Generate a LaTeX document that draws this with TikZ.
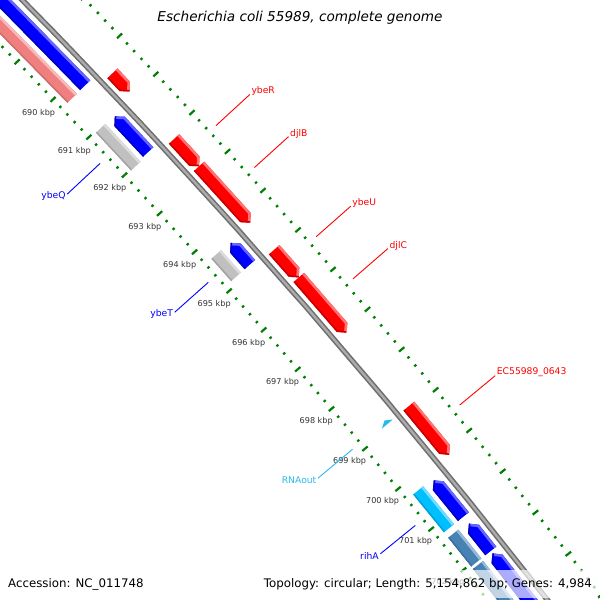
\documentclass[tikz,border=0pt]{standalone}
\usepackage{fontspec}
\setmainfont{DejaVu Sans}

\definecolor{fwdred}{RGB}{255,0,0}
\definecolor{revblue}{RGB}{0,0,255}
\definecolor{cogpink}{RGB}{240,128,128}
\definecolor{cogsilver}{RGB}{192,192,192}
\definecolor{cogcyan}{RGB}{0,191,255}
\definecolor{cogsteel}{RGB}{70,130,180}
\definecolor{rnacol}{RGB}{40,185,235}
\definecolor{tickgreen}{RGB}{0,128,0}

% map position s (px along the backbone) and offset d (px outward) to the page
\pgfkeys{/gm/.cd, s/.store in=\gmS, d/.store in=\gmD, s=0, d=0}
\tikzdeclarecoordinatesystem{gm}{%
  \pgfkeys{/gm/.cd,#1}%
  \pgfmathsetmacro\gmAng{44.103-(\gmS)*8.1895/1000}%
  \pgfmathsetmacro\gmRad{6996.3+(\gmD)}%
  \pgfpointadd{\pgfpoint{-4972pt}{-4299pt}}{\pgfpointpolar{\gmAng}{\gmRad pt}}%
}

% forward gene, track d=7..21, head at #2
\newcommand{\fwdgene}[3]{%
  \begin{scope}
    \clip (gm cs:s=#1,d=7) -- (gm cs:s=#2-7,d=7) -- (gm cs:s=#2,d=14)
      -- (gm cs:s=#2-7,d=21) -- (gm cs:s=#1,d=21) -- cycle;
    \fill[#3] (gm cs:s=#1-9,d=0) -- (gm cs:s=#2+9,d=0)
      -- (gm cs:s=#2+9,d=28) -- (gm cs:s=#1-9,d=28) -- cycle;
    \draw[#3!55!white, line width=5pt] (gm cs:s=#1-3,d=21) -- (gm cs:s=#2-7,d=21) -- (gm cs:s=#2,d=14);
    \draw[#3!78!black, line width=3pt] (gm cs:s=#1-3,d=7) -- (gm cs:s=#2-7,d=7) -- (gm cs:s=#2,d=14);
  \end{scope}}

% reverse gene, track d=-21..-7, head at #1
\newcommand{\revgene}[3]{%
  \begin{scope}
    \clip (gm cs:s=#1,d=-14) -- (gm cs:s=#1+7,d=-7) -- (gm cs:s=#2,d=-7)
      -- (gm cs:s=#2,d=-21) -- (gm cs:s=#1+7,d=-21) -- cycle;
    \fill[#3] (gm cs:s=#1-9,d=0) -- (gm cs:s=#2+9,d=0)
      -- (gm cs:s=#2+9,d=-28) -- (gm cs:s=#1-9,d=-28) -- cycle;
    \draw[#3!60!white, line width=5pt] (gm cs:s=#1,d=-14) -- (gm cs:s=#1+7,d=-7) -- (gm cs:s=#2+3,d=-7);
    \draw[#3!75!black, line width=3pt] (gm cs:s=#1,d=-14) -- (gm cs:s=#1+7,d=-21) -- (gm cs:s=#2+3,d=-21);
  \end{scope}}

% flat box on the inner track d=-39..-26
\newcommand{\cogbox}[3]{%
  \begin{scope}
    \clip (gm cs:s=#1,d=-26) -- (gm cs:s=#2,d=-26)
      -- (gm cs:s=#2,d=-39) -- (gm cs:s=#1,d=-39) -- cycle;
    \fill[#3] (gm cs:s=#1-9,d=-20) -- (gm cs:s=#2+9,d=-20)
      -- (gm cs:s=#2+9,d=-45) -- (gm cs:s=#1-9,d=-45) -- cycle;
    \draw[#3!55!white, line width=5pt] (gm cs:s=#1-3,d=-26) -- (gm cs:s=#2+3,d=-26);
    \draw[#3!85!black, line width=3pt] (gm cs:s=#1-3,d=-39) -- (gm cs:s=#2+3,d=-39);
  \end{scope}}

\begin{document}
\begin{tikzpicture}[x=1pt,y=1pt,
  tick/.style={tickgreen, line width=2.2pt},
  kbp/.style={black!80, font=\fontsize{8.1}{10}\selectfont, inner sep=0pt},
  glabel/.style={font=\fontsize{9.2}{11}\selectfont, inner sep=1.5pt},
  lblline/.style={line width=0.9pt},
  infobox/.style={fill=white, fill opacity=0.67, text opacity=1,
    font=\fontsize{11.8}{14}\selectfont, minimum height=28pt, inner xsep=6pt}]

\useasboundingbox (0,0) rectangle (600,600);
\clip (0,0) rectangle (600,600);

% backbone
\draw[black!57, line width=5.5pt] plot[domain=-150:850, samples=41] (gm cs:s=\x,d=0);
\draw[black!33, line width=2.4pt] plot[domain=-150:850, samples=41] (gm cs:s=\x,d=0);

% ticks, every 0.2 kbp, longer every 1 kbp
\foreach \k in {0,...,88}{
  \pgfmathsetmacro\s{51+(\k/5-3)*52.4}
  \pgfmathtruncatemacro\m{mod(\k,5)}
  \ifnum\m=0
    \draw[tick] (gm cs:s=\s,d=41.5) -- (gm cs:s=\s,d=48.5);
    \draw[tick] (gm cs:s=\s,d=-50.5) -- (gm cs:s=\s,d=-43.5);
  \else
    \draw[tick] (gm cs:s=\s,d=43.7) -- (gm cs:s=\s,d=46.3);
    \draw[tick] (gm cs:s=\s,d=-48.3) -- (gm cs:s=\s,d=-45.7);
  \fi
}
\foreach \p in {690,...,702}{
  \pgfmathsetmacro\s{51+(\p-690)*52.4}
  \node[kbp] (k\p) at (gm cs:s=\s,d=-67) {\p\ kbp};
}

% forward strand
\fwdgene{73}{98}{fwdred}
\fwdgene{163}{200}{fwdred}
\fwdgene{200}{276}{fwdred}
\fwdgene{312}{349}{fwdred}
\fwdgene{349}{422}{fwdred}
\fwdgene{518}{581}{fwdred}

% reverse strand
\revgene{-150}{63}{revblue}
\revgene{106}{155}{revblue}
\revgene{278}{307}{revblue}
\revgene{591}{638}{revblue}
\revgene{647}{682}{revblue}
\revgene{685}{850}{revblue}
\fill[rnacol] (gm cs:s=513.5,d=-14) -- (gm cs:s=518,d=-7) -- (gm cs:s=518,d=-21) -- cycle;

% inner track
\cogbox{-150}{63.5}{cogpink}
\cogbox{105}{157}{cogsilver}
\cogbox{277}{307}{cogsilver}
\cogbox{589}{638}{cogcyan}
\cogbox{645}{682}{cogsteel}
\cogbox{685}{850}{cogsteel}

% labels
\foreach \s/\n/\t in {181.5/ybeR/ybeR, 238/djlB/djlB, 330/ybeU/ybeU,
    385.5/djlC/djlC, 549.5/ec643/EC55989\_0643}{
  \coordinate (\n-a) at (gm cs:s=\s,d=54);
  \coordinate (\n-b) at (gm cs:s=\s,d=100);
  \draw[lblline, fwdred] (\n-a) -- (\n-b);
  \node[glabel, fwdred, anchor=west, yshift=3pt] (\n) at (\n-b) {\t};
}
\foreach \s/\n/\t/\c in {130.5/ybeQ/ybeQ/revblue, 292.5/ybeT/ybeT/revblue,
    515/rnaout/RNAout/rnacol, 614.5/rihA/rihA/revblue}{
  \coordinate (\n-a) at (gm cs:s=\s,d=-57);
  \coordinate (\n-b) at (gm cs:s=\s,d=-102);
  \draw[lblline, \c] (\n-a) -- (\n-b);
  \node[glabel, \c, anchor=east, yshift=-2pt] (\n) at (\n-b) {\t};
}

% title and footer
\node[font=\fontsize{13.6}{16}\selectfont\itshape] (title) at (300,582)
  {Escherichia coli 55989, complete genome};
\node[infobox, anchor=west] (accession) at (2,16) {Accession: NC\_011748};
\node[infobox, anchor=east] (topology) at (598,16)
  {Topology: circular; Length: 5,154,862 bp; Genes: 4,984};
\end{tikzpicture}
\end{document}
